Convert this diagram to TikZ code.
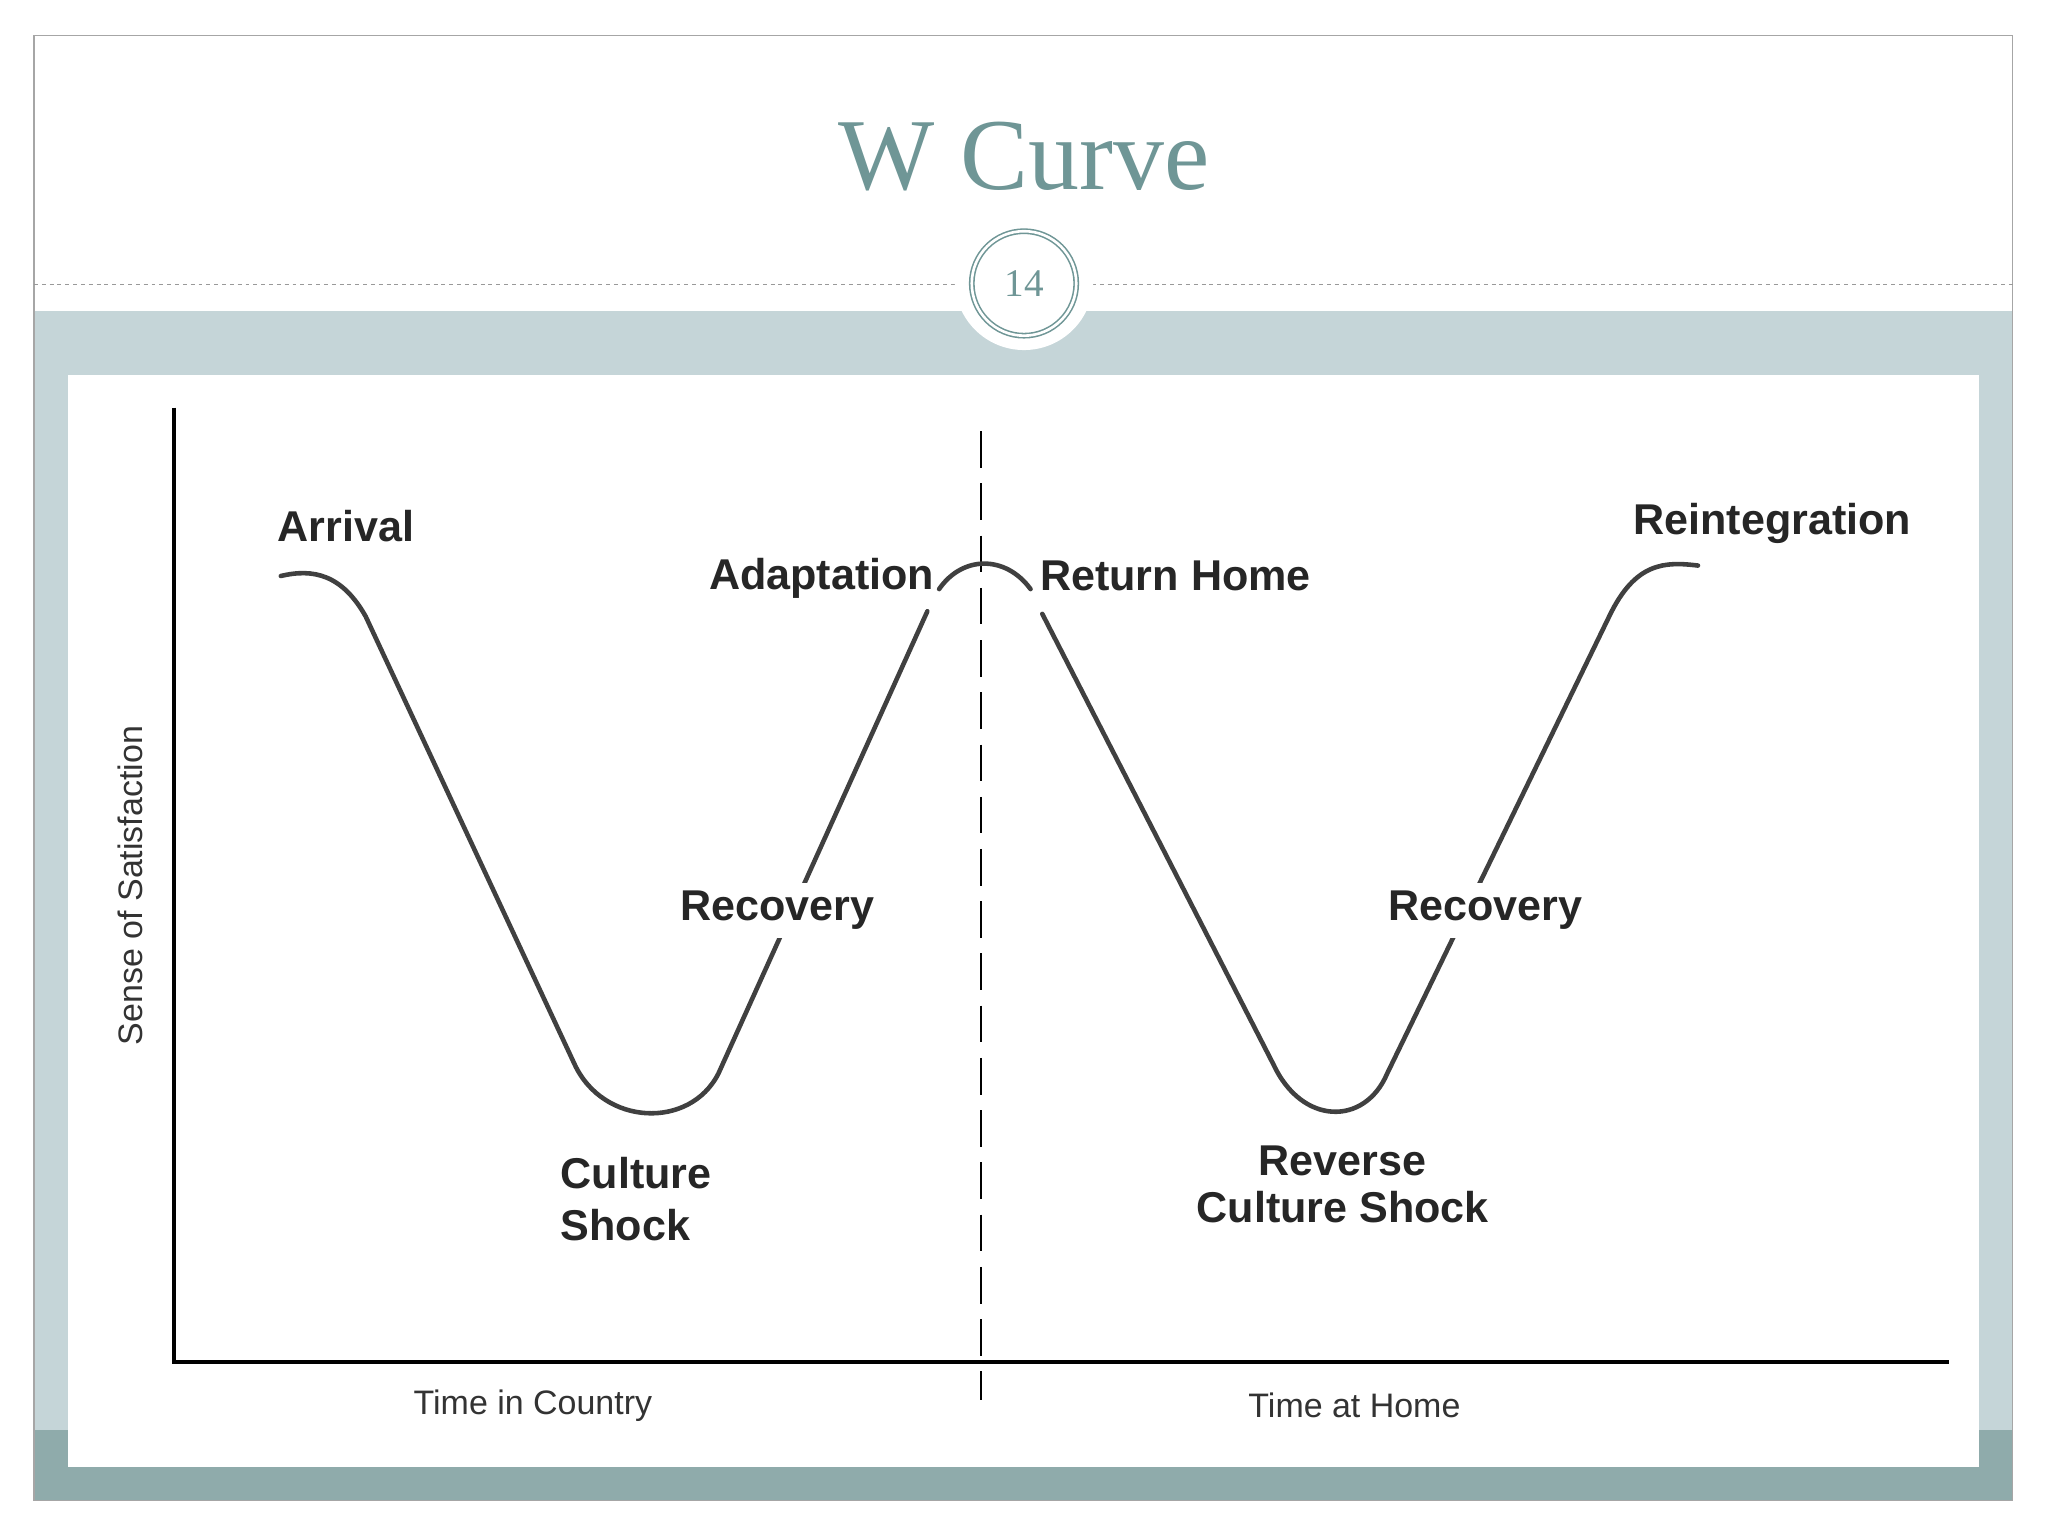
\documentclass[tikz,border=0pt]{standalone}
\usepackage{fontspec}
\setmainfont{Liberation Serif}
\setsansfont{Liberation Sans}
\begin{document}
\begin{tikzpicture}[x=1pt,y=-1pt,
  lbl/.style={font=\sffamily\bfseries\fontsize{33}{36}\selectfont,text=black!85},
  axl/.style={font=\sffamily\fontsize{26}{28}\selectfont,text=black!80},
  curve/.style={line width=3.5pt,black!75,line cap=round}]
\useasboundingbox (0,0) rectangle (1568,1176);
\fill[white] (0,0) rectangle (1568,1176);
\fill[white] (26,27) rectangle (1541,1149);
\fill[fill={rgb,255:red,197;green,213;blue,216}] (26,238) rectangle (1541,1149);
\fill[fill={rgb,255:red,143;green,171;blue,171}] (26,1095) rectangle (1541,1149);
\draw[gray!70,line width=1pt] (26,27) rectangle (1541,1149);
\draw[gray!80,dashed,line width=0.8pt] (26,218) -- (1541,218);
\fill[white] (784,215) circle (53);
\node[circle,draw={rgb,255:red,111;green,150;blue,150},fill=white,minimum size=80pt,line width=1.2pt,double,double distance=2pt,
  font=\fontsize{30}{32}\selectfont,text={rgb,255:red,111;green,150;blue,150}] (num) at (784,217) {14};
\node[font=\fontsize{78}{82}\selectfont,text={rgb,255:red,111;green,150;blue,150}] (title) at (784,120) {W Curve};
\fill[white] (52,287) rectangle (1515,1123);
% axes
\coordinate (o) at (133,1043);
\coordinate (ytop) at (133,312);
\coordinate (xend) at (1492,1043);
\draw[line width=3pt,black] (ytop) -- (o) -- (xend);
\coordinate (d1) at (751,330); \coordinate (d2) at (751,1072);
\draw[line width=2pt,dash pattern=on 28pt off 12pt] (d1) -- (d2);
% curves
\draw[curve] (215,441) .. controls (240,435) and (262,440) .. (280,472) -- (440,815) .. controls (462,862) and (528,865) .. (550,822) -- (710,468);
\draw[curve] (719,451) .. controls (737,425) and (770,425) .. (789,451);
\draw[curve] (798,470) -- (975,815) .. controls (997,862) and (1045,862) .. (1062,822) -- (1232,472) .. controls (1252,430) and (1275,430) .. (1300,433);
% labels
\node[lbl] (arr) at (265,403) {Arrival};
\node[lbl] (adp) at (629,443) {Adaptation};
\node[lbl] (ret) at (900,441) {Return Home};
\node[lbl] (rei) at (1357,401) {Reintegration};
\node[lbl,fill=white,inner sep=6pt] (rec1) at (595,697) {Recovery};
\node[lbl,fill=white,inner sep=6pt] (rec2) at (1137,697) {Recovery};
\node[lbl,align=left] (cs) at (487,918) {Culture\\[4pt]Shock};
\node[lbl,align=center] (rcs) at (1028,907) {Reverse\\Culture Shock};
\node[axl,rotate=90] (ys) at (100,678) {Sense of Satisfaction};
\node[axl] (tc) at (408,1076) {Time in Country};
\node[axl] (th) at (1037,1076) {Time at Home};
\end{tikzpicture}
\end{document}
